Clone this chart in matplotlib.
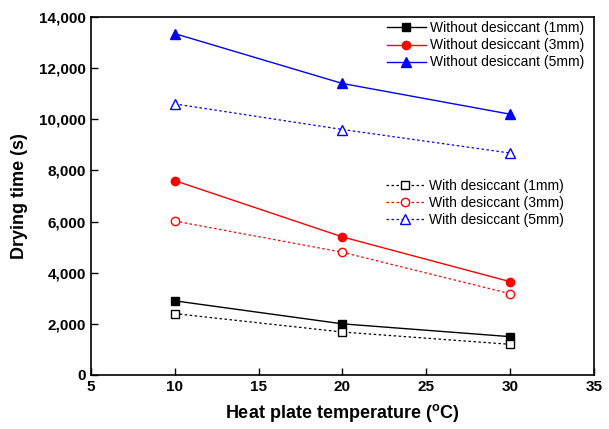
import matplotlib
matplotlib.use("Agg")
import matplotlib.pyplot as plt
from matplotlib.ticker import FuncFormatter

plt.rcParams['font.family'] = ['Liberation Sans', 'DejaVu Sans']

temps = [10, 20, 30]
without_1mm = [2900, 2000, 1500]
without_3mm = [7600, 5400, 3650]
without_5mm = [13350, 11400, 10200]
with_1mm = [2400, 1680, 1200]
with_3mm = [6020, 4800, 3180]
with_5mm = [10600, 9600, 8680]

fig = plt.figure(figsize=(6.09, 4.29), dpi=100)
ax = fig.add_axes([0.1494, 0.1259, 0.8256, 0.8345])

l1, = ax.plot(temps, without_1mm, '-', color='black', marker='s', ms=6, lw=1, label='Without desiccant (1mm)')
l2, = ax.plot(temps, without_3mm, '-', color='red', marker='o', ms=6, lw=1, label='Without desiccant (3mm)')
l3, = ax.plot(temps, without_5mm, '-', color='blue', marker='^', ms=7, lw=1, label='Without desiccant (5mm)')
m1, = ax.plot(temps, with_1mm, linestyle=(0, (2, 2)), color='black', marker='s', ms=6, lw=0.9, mfc='white', label='With desiccant (1mm)')
m2, = ax.plot(temps, with_3mm, linestyle=(0, (2, 2)), color='red', marker='o', ms=6, lw=0.9, mfc='white', label='With desiccant (3mm)')
m3, = ax.plot(temps, with_5mm, linestyle=(0, (2, 2)), color='blue', marker='^', ms=7, lw=0.9, mfc='white', label='With desiccant (5mm)')

ax.set_xlim(5, 35)
ax.set_ylim(0, 14000)
ax.set_xticks([5, 10, 15, 20, 25, 30, 35])
ax.set_yticks(range(0, 14001, 2000))
ax.yaxis.set_major_formatter(FuncFormatter(lambda v, p: f"{int(v):,}"))
ax.tick_params(direction='in', length=5, width=1, labelsize=11, top=False, right=False)
for lab in ax.get_xticklabels() + ax.get_yticklabels():
    lab.set_fontweight('bold')
for s in ax.spines.values():
    s.set_linewidth(1.2)

ax.set_xlabel('Heat plate temperature ($^{\\mathregular{o}}$C)', fontsize=13, fontweight='bold', labelpad=6)
ax.set_ylabel('Drying time (s)', fontsize=13, fontweight='bold', labelpad=8)

leg1 = ax.legend(handles=[l1, l2, l3], loc='upper right', frameon=False, fontsize=10,
                 bbox_to_anchor=(1.0, 1.015), handlelength=2.8, borderaxespad=0.3, labelspacing=0.22, handletextpad=0.3)
ax.add_artist(leg1)
leg2 = ax.legend(handles=[m1, m2, m3], loc='upper right', frameon=False, fontsize=10,
                 bbox_to_anchor=(0.96, 0.576), handlelength=2.8, borderaxespad=0.3, labelspacing=0.22, handletextpad=0.3)

fig.savefig('out.png', dpi=100)
